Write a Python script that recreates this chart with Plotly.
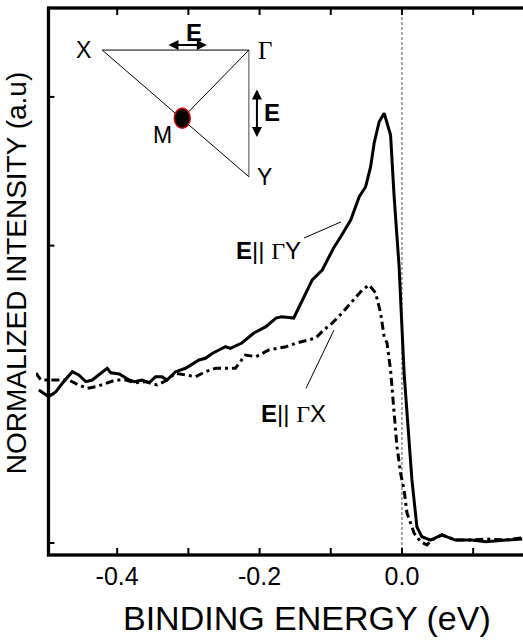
import plotly.graph_objects as go

# ---- data ----
gy_x = [-0.510, -0.496, -0.486, -0.477, -0.463, -0.454, -0.444, -0.435, -0.426, -0.414,
        -0.409, -0.397, -0.383, -0.376, -0.365, -0.355, -0.346, -0.337, -0.330, -0.318,
        -0.304, -0.292, -0.285, -0.276, -0.266, -0.257, -0.248, -0.241, -0.229, -0.225,
        -0.208, -0.191, -0.177, -0.169, -0.152, -0.140, -0.126, -0.112, -0.096, -0.086,
        -0.072, -0.060, -0.051, -0.044, -0.039, -0.032, -0.025, -0.016, -0.011, -0.004,
        0.003, 0.014, 0.021, 0.028, 0.040, 0.056, 0.075, 0.098, 0.118, 0.146, 0.169]
gy_y = [1.029, 0.984, 1.017, 1.074, 1.152, 1.130, 1.085, 1.096, 1.130, 1.175,
        1.145, 1.137, 1.096, 1.085, 1.096, 1.078, 1.118, 1.118, 1.096, 1.152,
        1.175, 1.208, 1.231, 1.242, 1.276, 1.298, 1.320, 1.309, 1.338, 1.345,
        1.412, 1.455, 1.513, 1.522, 1.513, 1.634, 1.769, 1.836, 1.984, 2.060,
        2.172, 2.329, 2.396, 2.531, 2.690, 2.833, 2.890, 2.744, 2.329, 1.858,
        1.143, 0.424, 0.108, 0.042, 0.020, 0.054, 0.020, 0.020, 0.009, 0.020, 0.027]

gx_x = [-0.514, -0.507, -0.496, -0.468, -0.454, -0.442, -0.430, -0.416, -0.402, -0.388,
        -0.374, -0.360, -0.344, -0.334, -0.318, -0.304, -0.290, -0.276, -0.262, -0.248,
        -0.234, -0.220, -0.205, -0.187, -0.163, -0.149, -0.121, -0.110, -0.098, -0.084,
        -0.070, -0.056, -0.046, -0.037, -0.030, -0.025, -0.021, -0.016, -0.011, -0.007,
        -0.002, 0.003, 0.007, 0.014, 0.017, 0.026, 0.035, 0.042, 0.056, 0.075, 0.098,
        0.118, 0.146, 0.169]
gx_y = [1.143, 1.096, 1.096, 1.096, 1.063, 1.040, 1.051, 1.074, 1.096, 1.096,
        1.078, 1.085, 1.063, 1.085, 1.141, 1.130, 1.118, 1.152, 1.175, 1.175,
        1.175, 1.264, 1.253, 1.298, 1.320, 1.343, 1.379, 1.432, 1.479, 1.547,
        1.623, 1.701, 1.735, 1.681, 1.547, 1.387, 1.345, 1.163, 0.874, 0.648,
        0.471, 0.356, 0.202, 0.110, 0.067, 0.009, -0.013, 0.020, 0.054, 0.020, 0.020,
        0.027, 0.020, 0.034]

x_tickvals = [-0.4, -0.3, -0.2, -0.1, 0.0, 0.1]
x_ticktext = ['-0.4', '', '-0.2', '', '0.0', '']
y_tickvals = [0, 1, 2, 3]

# plot area is a little larger than the drawn frame so curves can overhang on the left
X_RANGE = [-0.514, 0.170]
Y_RANGE = [-0.1076, 3.6248]
FRAME_X0 = -0.4965
FRAME_Y0 = -0.0807
FRAME_Y1 = 3.598

FONT = "Liberation Sans, Arial, sans-serif"
SERIF = "Liberation Serif, Times New Roman, serif"

W, H = 523, 644
M = dict(l=36, r=0, t=4, b=85)
px_x = (W - M['l'] - M['r']) / (X_RANGE[1] - X_RANGE[0])   # pixels per x unit
px_y = (H - M['t'] - M['b']) / (Y_RANGE[1] - Y_RANGE[0])   # pixels per y unit
XT_LEN = 7 / px_y
YT_LEN = 6 / px_x
HW_X = 1.3 / px_x   # half frame thickness (x units)
HW_Y = 1.3 / px_y   # half frame thickness (y units)

fig = go.Figure()
# frame drawn as a filled polygon outline (left / top / bottom bars)
fig.add_trace(go.Scatter(
    x=[FRAME_X0 - HW_X, X_RANGE[1], X_RANGE[1], FRAME_X0 + HW_X, FRAME_X0 + HW_X,
       X_RANGE[1], X_RANGE[1], FRAME_X0 - HW_X, FRAME_X0 - HW_X],
    y=[FRAME_Y1 + HW_Y, FRAME_Y1 + HW_Y, FRAME_Y1 - HW_Y, FRAME_Y1 - HW_Y, FRAME_Y0 + HW_Y,
       FRAME_Y0 + HW_Y, FRAME_Y0 - HW_Y, FRAME_Y0 - HW_Y, FRAME_Y1 + HW_Y],
    mode='lines', fill='toself', fillcolor='black',
    line=dict(color='black', width=0.5), showlegend=False, hoverinfo='skip'))
fig.add_trace(go.Scatter(x=gy_x, y=gy_y, mode='lines',
                         line=dict(color='black', width=3), showlegend=False))
fig.add_trace(go.Scatter(x=gx_x, y=gx_y, mode='lines',
                         line=dict(color='black', width=3, dash='8px,4px,3px,4px'),
                         showlegend=False))

shapes = [
    # frame bars as filled rectangles
    dict(type='rect', x0=FRAME_X0 - HW_X, x1=X_RANGE[1], y0=FRAME_Y0 - HW_Y, y1=FRAME_Y0 + HW_Y,
         fillcolor='black', line=dict(width=0)),
    dict(type='rect', x0=FRAME_X0 - HW_X, x1=X_RANGE[1], y0=FRAME_Y1 - HW_Y, y1=FRAME_Y1 + HW_Y,
         fillcolor='black', line=dict(width=0)),
    dict(type='rect', x0=FRAME_X0 - HW_X, x1=FRAME_X0 + HW_X, y0=FRAME_Y0 - HW_Y, y1=FRAME_Y1 + HW_Y,
         fillcolor='black', line=dict(width=0)),
    # Fermi level dotted line
    dict(type='line', x0=0.0, x1=0.0, y0=FRAME_Y0, y1=FRAME_Y1,
         line=dict(color='#555555', width=1, dash='3px,2px'), layer='below'),
]
tick = dict(color='black', width=2)
for v in x_tickvals:
    shapes.append(dict(type='line', x0=v, x1=v, y0=FRAME_Y0, y1=FRAME_Y0 + XT_LEN, line=tick))
    shapes.append(dict(type='line', x0=v, x1=v, y0=FRAME_Y1, y1=FRAME_Y1 - XT_LEN, line=tick))
for v in y_tickvals:
    shapes.append(dict(type='line', x0=FRAME_X0, x1=FRAME_X0 + YT_LEN, y0=v, y1=v, line=tick))

shapes += [
    # inset triangle
    dict(type='line', x0=-0.421, y0=3.315, x1=-0.215, y1=3.315, line=dict(color='black', width=1)),
    dict(type='line', x0=-0.215, y0=3.315, x1=-0.215, y1=2.463, line=dict(color='#444', width=1)),
    dict(type='line', x0=-0.421, y0=3.315, x1=-0.215, y1=2.463, line=dict(color='black', width=1)),
    dict(type='line', x0=-0.215, y0=3.315, x1=-0.3086, y1=2.856, line=dict(color='black', width=1)),
    dict(type='circle', x0=-0.3198, x1=-0.2974, y0=2.789, y1=2.923,
         fillcolor='black', line=dict(color='#d00000', width=1.5)),
    # leader lines
    dict(type='line', x0=-0.1376, y0=2.051, x1=-0.0857, y1=2.159, line=dict(color='black', width=1)),
    dict(type='line', x0=-0.1348, y0=1.040, x1=-0.0955, y1=1.432, line=dict(color='black', width=1)),
]

ann = []
def txt(x, y, t, size=23, fam=FONT):
    ann.append(dict(x=x, y=y, text=t, showarrow=False, xref='x', yref='y',
                    font=dict(family=fam, size=size, color='black'),
                    xanchor='center', yanchor='middle'))

txt(-0.4466, 3.315, 'X')
txt(-0.192, 3.315, 'Γ', size=25, fam=SERIF)
txt(-0.337, 2.743, 'M')
txt(-0.193, 2.461, 'Y')
txt(-0.292, 3.436, '<b>E</b>', size=24)
txt(-0.182, 2.892, '<b>E</b>', size=24)
txt(-0.188, 1.970, "<b>E</b>|| <span style='font-family:Liberation Serif'>Γ</span>Y", size=24)
txt(-0.153, 0.868, "<b>E</b>|| <span style='font-family:Liberation Serif'>Γ</span>X", size=24)

# double arrows for polarization
ann.append(dict(x=-0.274, y=3.349, ax=-0.330, ay=3.349, axref='x', ayref='y', xref='x', yref='y',
                text='', showarrow=True, arrowside='end+start', arrowhead=2, arrowsize=1,
                arrowwidth=2, arrowcolor='black'))
ann.append(dict(x=-0.2037, y=2.730, ax=-0.2037, ay=3.060, axref='x', ayref='y', xref='x', yref='y',
                text='', showarrow=True, arrowside='end+start', arrowhead=2, arrowsize=1,
                arrowwidth=2, arrowcolor='black'))

# axis titles (paper coords relative to the plot area)
ann.append(dict(x=0.556, y=-0.106, xref='paper', yref='paper', text='BINDING ENERGY (eV)',
                showarrow=False, font=dict(family=FONT, size=34, color='black'),
                xanchor='center', yanchor='middle'))
ann.append(dict(x=-0.041, y=0.515, xref='paper', yref='paper', text='NORMALIZED INTENSITY (a.u)',
                showarrow=False, textangle=-90, font=dict(family=FONT, size=28, color='black'),
                xanchor='center', yanchor='middle'))

fig.update_layout(
    width=W, height=H,
    margin=M,
    paper_bgcolor='white', plot_bgcolor='white',
    shapes=shapes, annotations=ann,
    xaxis=dict(range=X_RANGE, tickvals=x_tickvals, ticktext=x_ticktext,
               ticks='', showline=False, showgrid=False, zeroline=False,
               tickfont=dict(family=FONT, size=25, color='black')),
    yaxis=dict(range=Y_RANGE, showticklabels=False, ticks='',
               showline=False, showgrid=False, zeroline=False),
)

fig.write_html("out.html")
